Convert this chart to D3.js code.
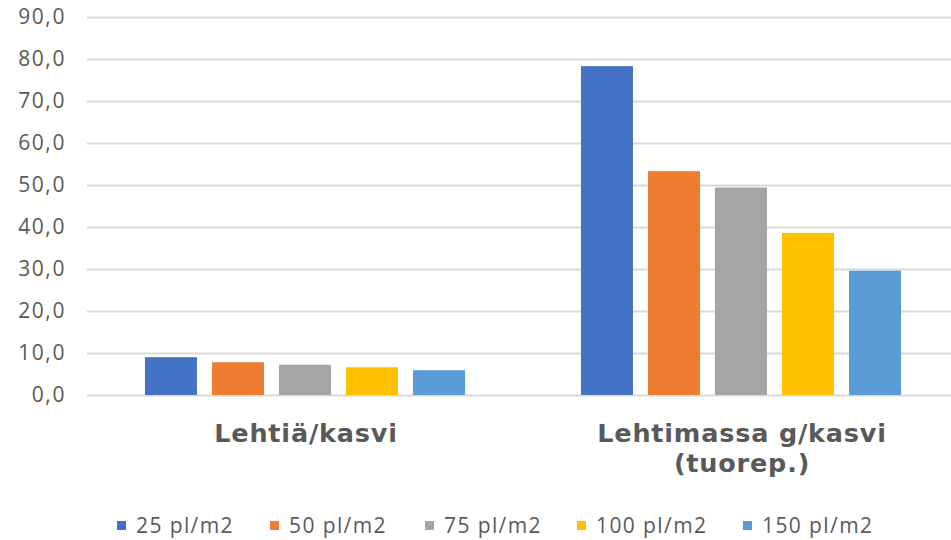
<!DOCTYPE html>
<html><head><meta charset="utf-8">
<script src="https://cdn.jsdelivr.net/npm/d3@7"></script>
<style>body{margin:0;background:#fff}svg{display:block}</style>
</head><body>
<svg id="c" width="951" height="540"></svg>
<script>
const categories = [["Lehtiä/kasvi"], ["Lehtimassa g/kasvi", "(tuorep.)"]];
const seriesNames = ["25 pl/m2", "50 pl/m2", "75 pl/m2", "100 pl/m2", "150 pl/m2"];
const colors = ["#4472c4", "#ed7d31", "#a5a5a5", "#ffc000", "#5b9bd5"];
const s25 = [9.0, 78.3];
const s50 = [7.8, 53.3];
const s75 = [7.2, 49.4];
const s100 = [6.6, 38.6];
const s150 = [5.9, 29.6];
const seriesValues = [s25, s50, s75, s100, s150];
const yTicks = [0, 10, 20, 30, 40, 50, 60, 70, 80, 90];

const svg = d3.select("#c");
const font = "'Open Sans', sans-serif";
const titleFont = "'DejaVu Sans', sans-serif";
const x0 = d3.scaleBand().domain(d3.range(categories.length)).range([87, 959]).paddingInner(0).paddingOuter(0);
const x1 = d3.scaleBand().domain(d3.range(seriesNames.length)).range([0, x0.bandwidth()]).paddingInner(0.224).paddingOuter(0.865);
const y = d3.scaleLinear().domain([0, 90]).range([395, 17]);

const yAxis = d3.axisLeft(y).tickValues(yTicks).tickSize(-(951 - 87)).tickFormat(d => d3.format(".1f")(d).replace(".", ","));
const ga = svg.append("g").attr("transform", "translate(87,0)").call(yAxis);
ga.select(".domain").remove();
ga.selectAll(".tick line").attr("stroke", "#d9d9d9").attr("stroke-width", 2);
ga.selectAll(".tick text").attr("x", -21).attr("fill", "#595959").attr("font-size", 21)
  .attr("letter-spacing", 1.6).attr("font-family", font);

const groups = svg.append("g").selectAll("g").data(categories).join("g")
  .attr("transform", (d, i) => `translate(${x0(i)},0)`);
groups.selectAll("rect").data((d, i) => seriesValues.map((s, k) => ({k, v: s[i]}))).join("rect")
  .attr("x", d => x1(d.k)).attr("width", x1.bandwidth())
  .attr("y", d => y(d.v)).attr("height", d => y(0) - y(d.v))
  .attr("fill", d => colors[d.k]);

groups.each(function(lines, i) {
  const t = d3.select(this).append("text").attr("text-anchor", "middle")
    .attr("font-family", titleFont).attr("font-weight", "bold").attr("font-size", 25.5)
    .attr("letter-spacing", 0.8).attr("fill", "#595959");
  lines.forEach((l, j) => t.append("tspan").attr("x", x0.bandwidth() / 2 + 1).attr("y", 442 + j * 30).text(l));
});

const legX = [117, 270, 425, 577, 743];
const leg = svg.append("g").selectAll("g").data(seriesNames).join("g")
  .attr("transform", (d, i) => `translate(${legX[i]},521)`);
leg.append("rect").attr("width", 9).attr("height", 9).attr("fill", (d, i) => colors[i]);
leg.append("text").attr("x", 19).attr("y", 12).attr("font-family", font).attr("font-size", 21)
  .attr("letter-spacing", 1.4).attr("fill", "#595959").text(d => d);
</script>
</body></html>
